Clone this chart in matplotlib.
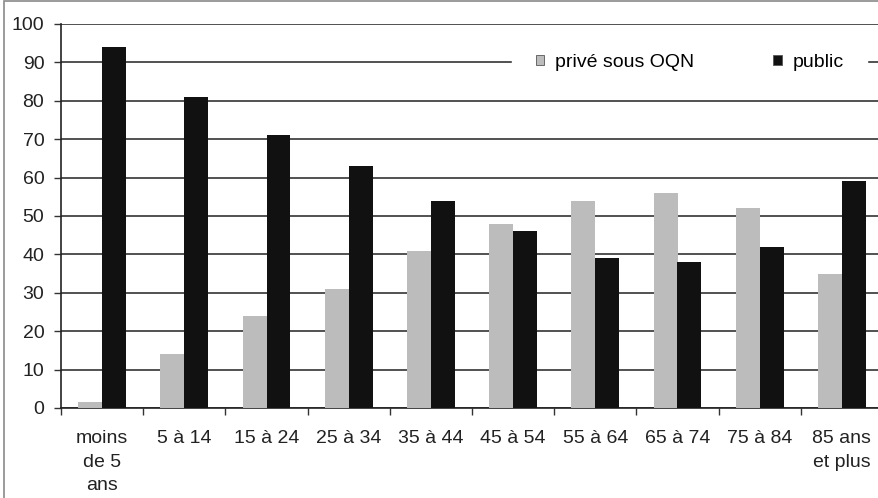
import numpy as np
import matplotlib
matplotlib.use("Agg")
import matplotlib.pyplot as plt
from matplotlib.patches import Rectangle

plt.rcParams['font.family'] = ['Liberation Sans', 'DejaVu Sans']

# age groups and share of stays per sector (%)
categories = ["moins\nde 5\nans", "5 à 14", "15 à 24", "25 à 34", "35 à 44",
              "45 à 54", "55 à 64", "65 à 74", "75 à 84", "85 ans\net plus"]
prive_oqn = [1.5, 14, 24, 31, 41, 48, 54, 56, 52, 35]
public = [94, 81, 71, 63, 54, 46, 39, 38, 42, 59]
yticks = list(range(0, 101, 10))

FS = 14

fig = plt.figure(figsize=(8.79, 4.98), dpi=100)
ax = fig.add_axes([61 / 879, 1 - 408 / 498, 822 / 879, 384 / 498])

x = np.arange(len(categories))
w = 0.29
ax.bar(x - w / 2, prive_oqn, width=w, color="#bcbcbc", edgecolor="none",
       label="privé sous OQN", zorder=3)
ax.bar(x + w / 2, public, width=w, color="#111111", edgecolor="none",
       label="public", zorder=3)

ax.set_xlim(-0.5, len(categories) - 0.5)
ax.set_ylim(0, 100)
ax.set_yticks(yticks)
# major ticks sit between groups, labels on minor ticks at group centres
ax.set_xticks(np.arange(len(categories) + 1) - 0.5, minor=False)
ax.set_xticklabels([])
ax.set_xticks(x, minor=True)
ax.set_xticklabels(categories, minor=True, fontsize=FS, color="#222222",
                   linespacing=1.5, va="top")
ax.tick_params(axis="x", which="minor", length=0, pad=16)
ax.tick_params(axis="x", which="major", length=5, width=1, color="#333333")
ax.tick_params(axis="y", length=5, width=1, color="#333333", pad=7,
               labelsize=FS, labelcolor="#222222")

ax.grid(axis="y", color="#333333", linewidth=1.2, zorder=0)
ax.set_axisbelow(True)
for side in ("top", "right"):
    ax.spines[side].set_visible(False)
for side in ("left", "bottom"):
    ax.spines[side].set_color("#222222")
    ax.spines[side].set_linewidth(1.2)

leg = ax.legend(loc="center", bbox_to_anchor=(0.7646, 0.9), ncol=2,
                fontsize=FS, frameon=True, fancybox=False, framealpha=1,
                edgecolor="white", handlelength=0.42, handleheight=0.42,
                handletextpad=0.55, columnspacing=4.1, borderpad=1.2)
for h in leg.legend_handles:
    h.set_edgecolor("#555555")
    h.set_linewidth(0.6)
leg.set_zorder(5)

# outer frame of the chart area
fig.patches.append(Rectangle((4 / 879, -0.1), 1.2, 1.1 - 1 / 498,
                             transform=fig.transFigure, fill=False,
                             edgecolor="#8a8a8a", linewidth=1.2))

fig.savefig("out.png", dpi=100)
